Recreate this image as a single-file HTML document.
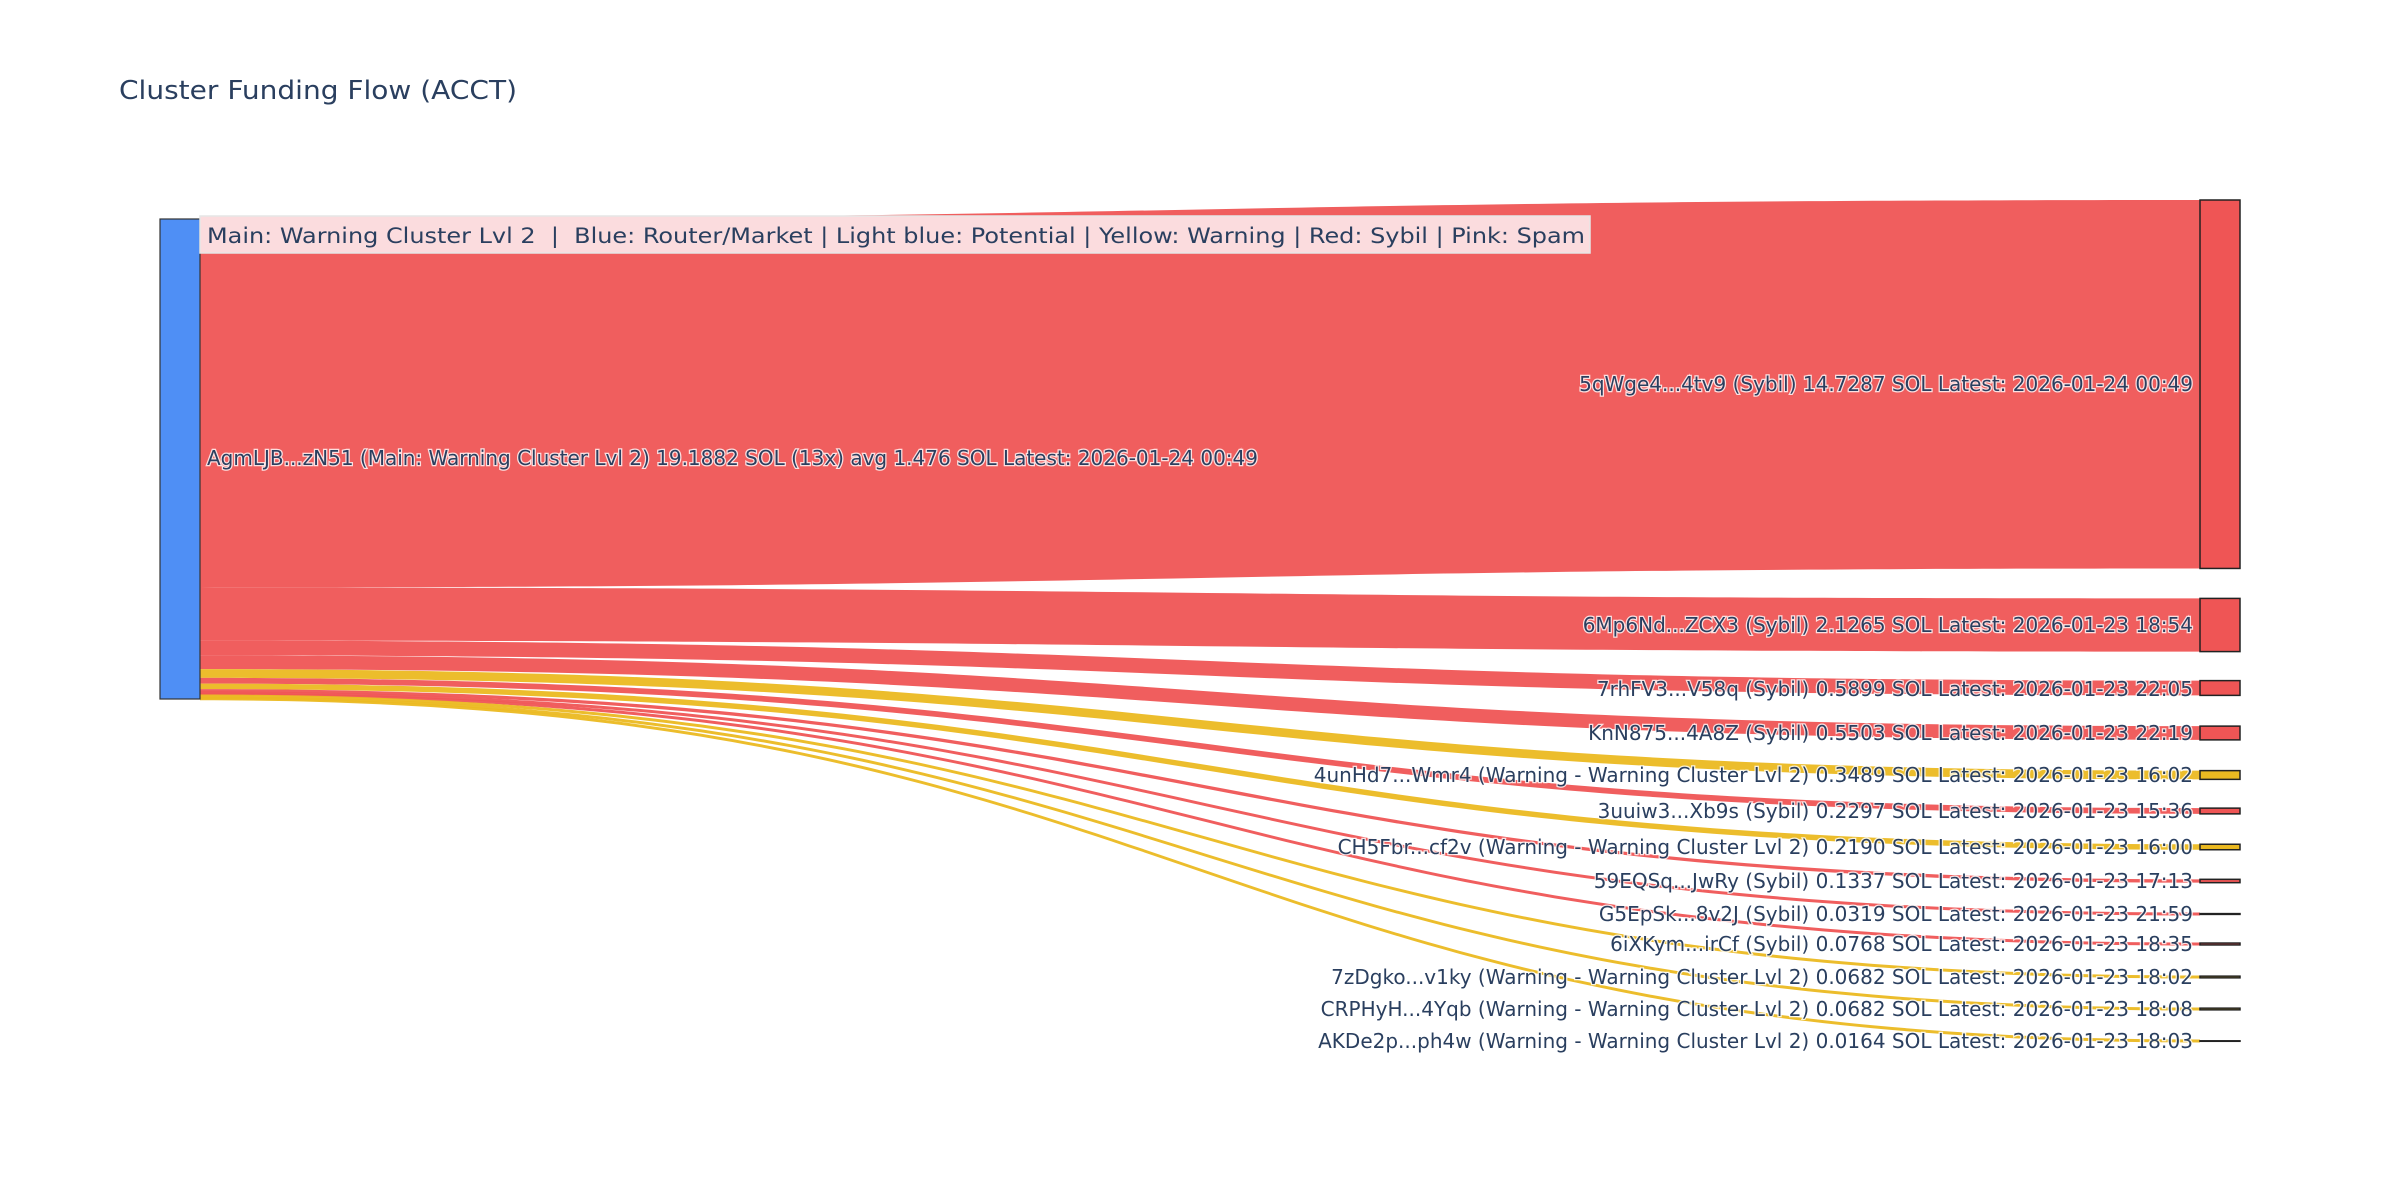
<!DOCTYPE html>
<html><head><meta charset="utf-8">
<style>
html,body{margin:0;padding:0;background:#fff;}
svg{display:block;}
text{font-family:"DejaVu Sans","Liberation Sans",sans-serif;fill:#2a3f5f;white-space:pre;}
.lbl{font-size:20px;paint-order:stroke;stroke:#fff;stroke-width:2.5px;stroke-opacity:0.8;}
</style></head>
<body>
<svg id="s" width="2400" height="1200" viewBox="0 0 2400 1200" xmlns="http://www.w3.org/2000/svg" xml:space="preserve">
<rect width="2400" height="1200" fill="#fff"/>
<text x="119" y="99" style="font-size:26px" textLength="398" lengthAdjust="spacingAndGlyphs">Cluster Funding Flow (ACCT)</text>
<g id="links"></g>
<rect x="160" y="219" width="40" height="480" fill="#4f8ff5" stroke="#333" stroke-width="1.2"/>
<g id="nodes"></g>
<rect x="200" y="216" width="1390" height="37" fill="#fbdcde" stroke="#e6e6e6" stroke-width="1.5"/>
<text x="207" y="243" style="font-size:21px" textLength="1378" lengthAdjust="spacingAndGlyphs">Main: Warning Cluster Lvl 2  |  Blue: Router/Market | Light blue: Potential | Yellow: Warning | Red: Sybil | Pink: Spam</text>
<text class="lbl" x="207" y="465" textLength="1051" lengthAdjust="spacingAndGlyphs">AgmLJB...zN51 (Main: Warning Cluster Lvl 2) 19.1882 SOL (13x) avg 1.476 SOL Latest: 2026-01-24 00:49</text>
<g text-anchor="end">
<text class="lbl" x="2193" y="391">5qWge4...4tv9 (Sybil) 14.7287 SOL Latest: 2026-01-24 00:49</text>
<text class="lbl" x="2193" y="632">6Mp6Nd...ZCX3 (Sybil) 2.1265 SOL Latest: 2026-01-23 18:54</text>
<text class="lbl" x="2193" y="696">7rhFV3...V58q (Sybil) 0.5899 SOL Latest: 2026-01-23 22:05</text>
<text class="lbl" x="2193" y="740">KnN875...4A8Z (Sybil) 0.5503 SOL Latest: 2026-01-23 22:19</text>
<text class="lbl" x="2193" y="782">4unHd7...Wmr4 (Warning - Warning Cluster Lvl 2) 0.3489 SOL Latest: 2026-01-23 16:02</text>
<text class="lbl" x="2193" y="818">3uuiw3...Xb9s (Sybil) 0.2297 SOL Latest: 2026-01-23 15:36</text>
<text class="lbl" x="2193" y="854">CH5Fbr...cf2v (Warning - Warning Cluster Lvl 2) 0.2190 SOL Latest: 2026-01-23 16:00</text>
<text class="lbl" x="2193" y="888">59EQSq...JwRy (Sybil) 0.1337 SOL Latest: 2026-01-23 17:13</text>
<text class="lbl" x="2193" y="921">G5EpSk...8v2J (Sybil) 0.0319 SOL Latest: 2026-01-23 21:59</text>
<text class="lbl" x="2193" y="951">6iXKym...irCf (Sybil) 0.0768 SOL Latest: 2026-01-23 18:35</text>
<text class="lbl" x="2193" y="984">7zDgko...v1ky (Warning - Warning Cluster Lvl 2) 0.0682 SOL Latest: 2026-01-23 18:02</text>
<text class="lbl" x="2193" y="1016">CRPHyH...4Yqb (Warning - Warning Cluster Lvl 2) 0.0682 SOL Latest: 2026-01-23 18:08</text>
<text class="lbl" x="2193" y="1048">AKDe2p...ph4w (Warning - Warning Cluster Lvl 2) 0.0164 SOL Latest: 2026-01-23 18:03</text>
</g>
</svg>
<script>
var R="#ef5555",Y="#ebb921";
var d=[[14.7287,R,384.2],[2.1265,R,625],[0.5899,R,688],[0.5503,R,733],[0.3489,Y,775],[0.2297,R,811],[0.2190,Y,847],[0.1337,R,881],[0.0319,R,914],[0.0768,R,944],[0.0682,Y,977],[0.0682,Y,1009],[0.0164,Y,1041]];
var k=480/19.1882,y=219,x0=200,x1=2200,xm=1200,L="",N="";
d.forEach(function(e,i){
 var h=e[0]*k,a=y,b=y+h,c=e[2]-h/2,f=e[2]+h/2;
 if(i==0){c=200;f=200+h;}
 var hv=Math.max(h,3),mid=(a+b)/2;
 var A=mid-hv/2,B=mid+hv/2,C=e[2]-hv/2,F=e[2]+hv/2;
 if(i==0){A=a;B=b;C=c;F=f;}
 L+='<path d="M'+x0+','+A+'C'+xm+','+A+' '+xm+','+C+' '+x1+','+C+'L'+x1+','+F+'C'+xm+','+F+' '+xm+','+B+' '+x0+','+B+'Z" fill="'+e[1]+'" fill-opacity="0.95"/>';
 N+='<rect x="2200" y="'+c+'" width="40" height="'+Math.max(h,0.5)+'" fill="'+e[1]+'" stroke="#222" stroke-width="1.5"/>';
 y=b;
});
document.getElementById("links").innerHTML=L;
document.getElementById("nodes").innerHTML=N;
</script>
</body></html>
